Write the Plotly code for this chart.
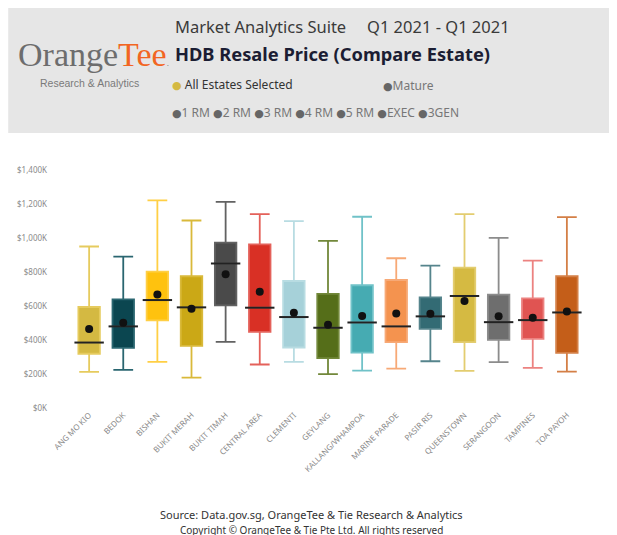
import plotly.graph_objects as go

# HDB resale price by estate, Q1 2021 (values in $K)
estates = ["ANG MO KIO", "BEDOK", "BISHAN", "BUKIT MERAH", "BUKIT TIMAH", "CENTRAL AREA",
           "CLEMENTI", "GEYLANG", "KALLANG/WHAMPOA", "MARINE PARADE", "PASIR RIS",
           "QUEENSTOWN", "SERANGOON", "TAMPINES", "TOA PAYOH"]
low = [212, 224, 271, 179, 389, 256, 271, 199, 220, 232, 275, 218, 270, 236, 214]
q1 = [319, 354, 515, 366, 604, 448, 356, 293, 326, 387, 466, 387, 401, 407, 324]
median = [385, 480, 635, 592, 850, 590, 535, 472, 503, 480, 539, 659, 505, 517, 562]
q3 = [594, 639, 802, 775, 973, 962, 747, 671, 722, 753, 651, 826, 667, 645, 775]
high = [950, 891, 1221, 1103, 1213, 1141, 1099, 983, 1125, 881, 838, 1141, 1001, 867, 1123]
mean = [464, 501, 667, 584, 787, 684, 560, 490, 541, 556, 555, 629, 539, 531, 568]

fills = ["#D4B942", "#0B4650", "#FFC20E", "#CBA816", "#4A4A4A", "#D93025", "#A6D1D9",
         "#556E19", "#46ABB2", "#F4934F", "#336B74", "#D5BA42", "#6E6E6E", "#E05452", "#C45E19"]
whiskers = ["#E6CB5E", "#2A6670", "#FFCF45", "#D9B93A", "#626262", "#E4615A", "#B8DCE2",
            "#72883A", "#70C2C8", "#F7A976", "#55848C", "#E3CD70", "#8C8C8C", "#EC8280", "#D47F46"]

# page body has an 8px margin, so the figure is drawn 8px in from the window corner
OFF = 8
W, H = 617 - OFF, 535 - OFF
L, R, T, B = 37, 9, 162, 127


def px(x):
    return (x - OFF - L) / (W - L - R)


def py(y):
    return (H - B - (y - OFF)) / (H - T - B)


fig = go.Figure()

for i, est in enumerate(estates):
    fig.add_trace(go.Box(
        x=[est], q1=[q1[i]], median=[median[i]], q3=[q3[i]],
        lowerfence=[low[i]], upperfence=[high[i]],
        fillcolor=fills[i], line=dict(color=whiskers[i], width=1.8),
        width=0.63, whiskerwidth=0.92, showlegend=False, hoverinfo="skip",
    ))

fig.add_trace(go.Scatter(
    x=estates, y=median, mode="markers", showlegend=False,
    marker=dict(symbol="line-ew", size=21, line=dict(color="#222222", width=2)),
))
fig.add_trace(go.Scatter(
    x=estates, y=mean, mode="markers", showlegend=False,
    marker=dict(symbol="circle", size=8, color="#111111"),
))

font = "Noto Sans"


def dot(color):
    return f"<span style='color:{color};font-family:DejaVu Sans;font-size:11px'>●</span>"


ann = [
    dict(x=px(13), y=py(55), text="<span style='color:#6d6d6d'>Orange</span>"
         "<span style='color:#F26522'>Tee</span><span style='color:#6d6d6d;font-size:9px'>.</span>",
         font=dict(family="Liberation Serif", size=34), xanchor="left"),
    dict(x=px(87), y=py(83), text="Research & Analytics", xanchor="center",
         font=dict(family="Liberation Sans", size=10.5, color="#7a7a7a")),
    dict(x=px(171), y=py(27), text="Market Analytics Suite", xanchor="left",
         font=dict(family=font, size=16.5, color="#3a3a3a")),
    dict(x=px(364), y=py(27), text="Q1 2021 - Q1 2021", xanchor="left",
         font=dict(family=font, size=16.5, color="#3a3a3a")),
    dict(x=px(171), y=py(54), text="<b>HDB Resale Price (Compare Estate)</b>", xanchor="left",
         font=dict(family=font, size=18.3, color="#1b1d33")),
    dict(x=px(168), y=py(85), text=dot("#D4B942") + " All Estates Selected",
         xanchor="left", font=dict(family=font, size=12, color="#333333")),
    dict(x=px(380), y=py(86), text=dot("#666666") + "Mature",
         xanchor="left", font=dict(family=font, size=12, color="#777777")),
    dict(x=px(168), y=py(112),
         text=" ".join(dot("#666666") + s for s in ["1 RM", "2 RM", "3 RM", "4 RM", "5 RM", "EXEC", "3GEN"]),
         xanchor="left", font=dict(family=font, size=12, color="#777777")),
    dict(x=px(310), y=py(514), text="Source: Data.gov.sg, OrangeTee & Tie Research & Analytics",
         xanchor="center", font=dict(family=font, size=11, color="#333333")),
    dict(x=px(310), y=py(530), text="Copyright © OrangeTee & Tie Pte Ltd. All rights reserved",
         xanchor="center", font=dict(family=font, size=10, color="#333333")),
]
for a in ann:
    a.update(xref="paper", yref="paper", showarrow=False, yanchor="middle")

fig.update_layout(
    width=W, height=H, margin=dict(l=L, r=R, t=T, b=B),
    paper_bgcolor="white", plot_bgcolor="white",
    boxmode="overlay", annotations=ann,
    shapes=[dict(type="rect", xref="paper", yref="paper", x0=px(5), x1=px(612),
                 y0=py(133), y1=py(7), fillcolor="#E6E6E6", line=dict(width=0), layer="below")],
    xaxis=dict(tickangle=-45, showgrid=False, showline=False, ticks="",
               tickfont=dict(family=font, size=8, color="#8a8a8a")),
    yaxis=dict(range=[0, 1400], dtick=200, showgrid=False, zeroline=False,
               tickprefix="$", ticksuffix="K", tickformat=",",
               tickfont=dict(family=font, size=8, color="#8a8a8a")),
)

fig.write_html("out.html")
